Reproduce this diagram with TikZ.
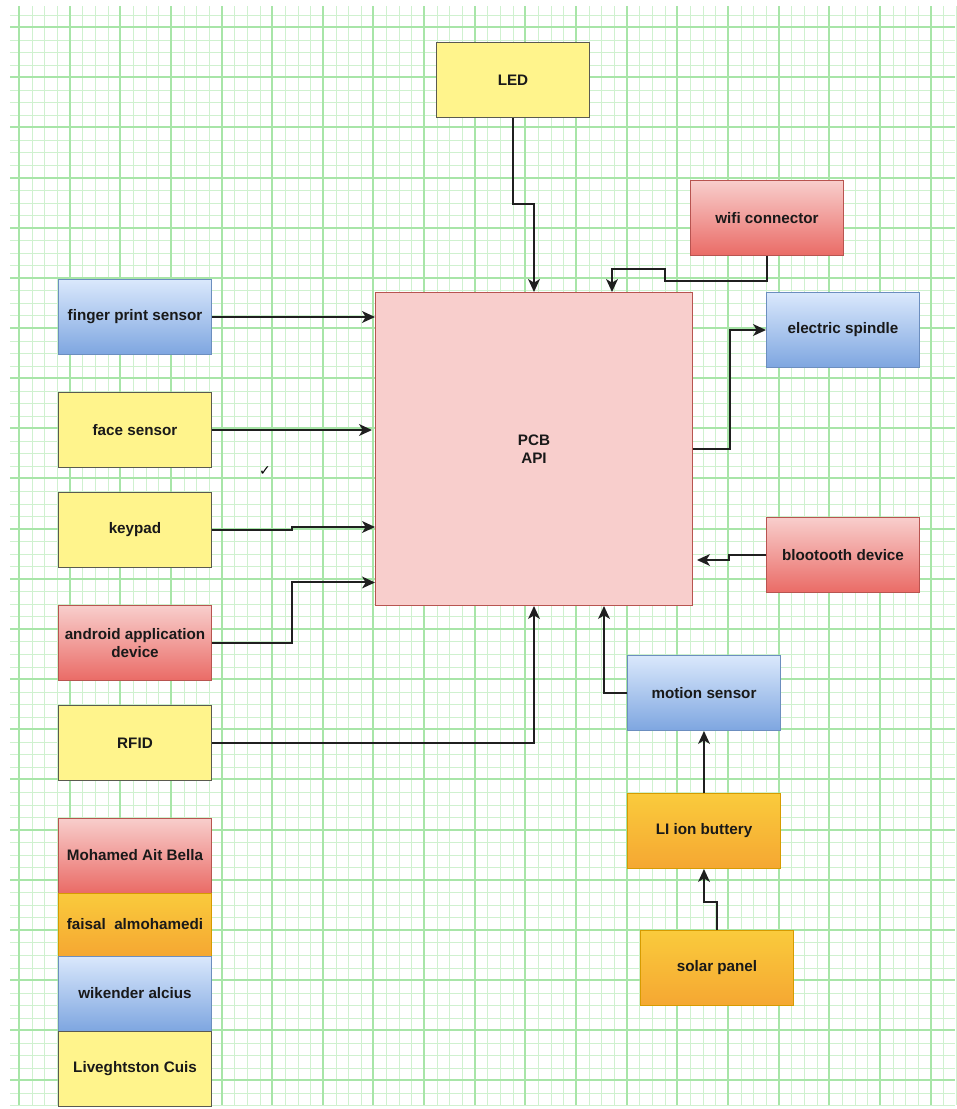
\documentclass[tikz,border=0pt]{standalone}
\usepackage{fontspec}
\setmainfont{Liberation Sans}
\newfontfamily\symfont{DejaVu Sans}
\usetikzlibrary{shapes,arrows.meta,positioning,calc}

\definecolor{gridminor}{HTML}{CFF1CF}
\definecolor{gridmajor}{HTML}{A8E5A8}
\definecolor{noteyellow}{HTML}{FFF48C}
\definecolor{noteedge}{HTML}{5A5A50}
\definecolor{redtop}{HTML}{F8CECC}
\definecolor{redbot}{HTML}{EA6B66}
\definecolor{rededge}{HTML}{B85450}
\definecolor{bluetop}{HTML}{DAE8FC}
\definecolor{bluebot}{HTML}{7EA6E0}
\definecolor{blueedge}{HTML}{6C8EBF}
\definecolor{orangetop}{HTML}{FACB3C}
\definecolor{orangebot}{HTML}{F5A732}
\definecolor{orangeedge}{HTML}{D79B00}
\definecolor{pcbfill}{HTML}{F8CECC}

\begin{document}
\begin{tikzpicture}[x=0.03cm, y=-0.03cm,
  box/.style={draw, rectangle, minimum width=4.59cm, minimum height=2.25cm, inner sep=2pt, align=center, line width=0.8pt, font=\fontsize{13}{15.5}\selectfont\bfseries, text=black!90},
  yellowbox/.style={box, fill=noteyellow, draw=noteedge},
  redbox/.style={box, top color=redtop, bottom color=redbot, draw=rededge},
  bluebox/.style={box, top color=bluetop, bottom color=bluebot, draw=blueedge},
  orangebox/.style={box, top color=orangetop, bottom color=orangebot, draw=orangeedge},
  link/.style={-{Stealth[length=11pt,width=10pt,inset=3pt]}, line width=0.06cm, black!88}]

\useasboundingbox (0,0) rectangle (957,1109);
\fill[white] (0,0) rectangle (957,1109);

% Grid paper
\foreach \k in {0,...,74} {
  \pgfmathsetmacro{\x}{round(19 + \k*12.66) + 0.5}
  \draw[gridminor, line width=0.03cm] (\x,6) -- (\x,1105);
}
\foreach \k in {0,...,87} {
  \pgfmathsetmacro{\y}{round(14.5 + \k*12.54) + 0.5}
  \draw[gridminor, line width=0.03cm] (10,\y) -- (955,\y);
}
\foreach \k in {0,4,...,72} {
  \pgfmathsetmacro{\x}{round(19 + \k*12.66)}
  \draw[gridmajor, line width=0.06cm] (\x,6) -- (\x,1105);
}
\foreach \k in {1,5,...,85} {
  \pgfmathsetmacro{\y}{round(14.5 + \k*12.54)}
  \draw[gridmajor, line width=0.06cm] (10,\y) -- (955,\y);
}

% Main board
\node[box, fill=pcbfill, draw=rededge, minimum width=9.51cm, minimum height=9.39cm] (pcb) at (534,449) {PCB\\API};

% Inputs on the left
\node[bluebox] (finger) at (135,317) {finger print sensor};
\node[yellowbox] (face) at (135,430) {face sensor};
\node[yellowbox] (keypad) at (135,530) {keypad};
\node[redbox] (android) at (135,643) {android application\\device};
\node[yellowbox] (rfid) at (135,743) {RFID};

% Top and right side
\node[yellowbox] (led) at (513,80) {LED};
\node[redbox] (wifi) at (767,218) {wifi connector};
\node[bluebox] (spindle) at (843,330) {electric spindle};
\node[redbox] (bt) at (843,555) {blootooth device};

% Power chain
\node[bluebox] (motion) at (704,693) {motion sensor};
\node[orangebox] (battery) at (704,831) {LI ion buttery};
\node[orangebox] (solar) at (717,968) {solar panel};

% Team
\node[redbox, outer sep=0pt] (mohamed) at (135,855.5) {Mohamed Ait Bella};
\node[orangebox, outer sep=0pt, minimum height=1.89cm, below=0pt of mohamed] (faisal) {faisal\ \ almohamedi};
\node[bluebox, outer sep=0pt, below=0pt of faisal] (wikender) {wikender alcius};
\node[yellowbox, outer sep=0pt, below=0pt of wikender] (livegh) {Liveghtston Cuis};

\node[font=\symfont\fontsize{12}{14}\selectfont\bfseries] (tick) at (265,471) {✓};

% Connectors
\draw[link] (led.south) |- ($(pcb.north)+(0,-88.5)$) -- (pcb.north);
\draw[link] (wifi.south) -- ++(0,25) -- ++(-102,0) -- ++(0,-12) -| ($(pcb.north)+(78,0)$);
\draw[link] (finger.east) -- (finger.east -| pcb.west);
\draw[link] (face.east) -- ($(face.east -| pcb.west)+(-3,0)$);
\draw[link] (keypad.east) -- ++(80,0) |- ($(keypad.east -| pcb.west)+(0,-3)$);
\draw[link] (android.east) -- ++(80,0) |- ($(pcb.south west)+(0,-23.5)$);
\draw[link] (rfid.east) -| (pcb.south);
\draw[link] (pcb.east) -- ++(37,0) |- (spindle.west);
\draw[link] (bt.west) -- ++(-37,0) |- ($(bt.west -| pcb.east)+(4,5)$);
\draw[link] (motion.west) -| ($(pcb.south)+(70,0)$);
\draw[link] (battery.north) -- (motion.south);
\draw[link] (solar.north) -- ++(0,-28) -| (battery.south);

\end{tikzpicture}
\end{document}
